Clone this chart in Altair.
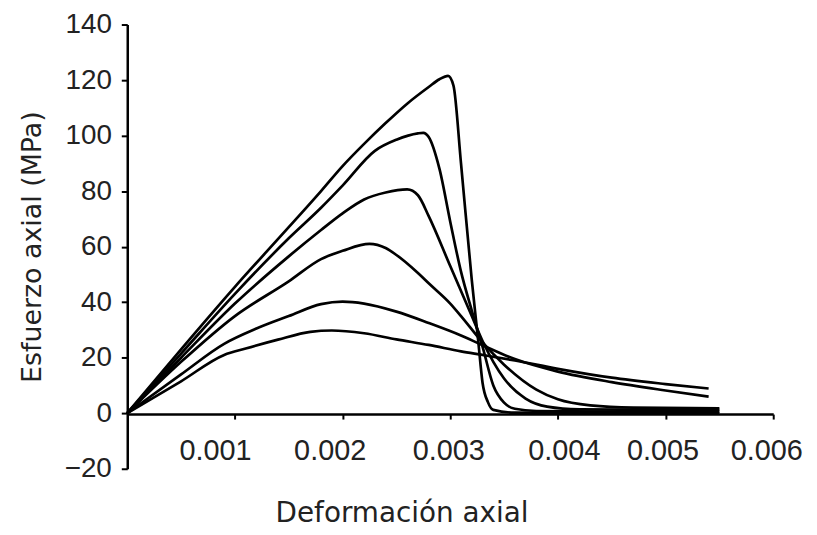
import altair as alt
import pandas as pd

# ---- data ----
serie_names = ["c1", "c2", "c3", "c4", "c5", "c6"]

c1_x = [0, 0.0005, 0.001, 0.0015, 0.0018, 0.002, 0.0022, 0.0024, 0.0026, 0.0028, 0.0029, 0.00298, 0.00303, 0.0031, 0.0032, 0.00326, 0.0033, 0.00335, 0.0034, 0.0036, 0.0045, 0.0055]
c1_y = [0, 23, 45.5, 67, 80, 89, 97, 104.5, 111.5, 117.5, 120.3, 121.5, 118, 90, 48, 26, 11, 4, 1.2, 0.2, 0, 0]

c2_x = [0, 0.0005, 0.001, 0.0015, 0.0018, 0.002, 0.0023, 0.0025, 0.0027, 0.00275, 0.0028, 0.0029, 0.003, 0.0031, 0.0032, 0.0033, 0.0034, 0.0035, 0.0036, 0.0038, 0.0045, 0.0055]
c2_y = [0, 21.5, 43, 63, 74, 82, 94.5, 98.5, 100.8, 101, 99.5, 88, 69, 51, 37, 24, 10, 3.8, 1.6, 0.8, 0.6, 0.6]

c3_x = [0, 0.0005, 0.001, 0.0015, 0.0018, 0.002, 0.0022, 0.0024, 0.0026, 0.0027, 0.0028, 0.003, 0.0032, 0.0033, 0.0035, 0.0037, 0.0039, 0.0042, 0.005, 0.0055]
c3_y = [0, 20, 39.5, 56.5, 66, 72, 77, 79.5, 80.6, 78.5, 71, 53, 35, 26, 12.5, 5.3, 2.4, 1.4, 1.2, 1.2]

c4_x = [0, 0.0005, 0.001, 0.0015, 0.0018, 0.002, 0.00225, 0.0024, 0.0025, 0.0027, 0.0028, 0.003, 0.0031, 0.0033, 0.0035, 0.0038, 0.004, 0.0043, 0.0047, 0.0055]
c4_y = [0, 18.5, 35, 47.5, 55.5, 58.5, 61, 59.5, 57, 50.5, 46.8, 39.5, 35, 25.5, 17.5, 8.5, 5, 2.8, 2.0, 1.8]

c5_x = [0, 0.0005, 0.0009, 0.0012, 0.0015, 0.0018, 0.002, 0.0022, 0.0025, 0.0028, 0.0031, 0.0033, 0.0036, 0.004, 0.0045, 0.005, 0.0054]
c5_y = [0, 14, 25, 30.5, 35, 39.3, 40.2, 39.5, 36.6, 32.5, 28, 24.5, 19.5, 15, 11.2, 8.2, 6]

c6_x = [0, 0.0005, 0.0009, 0.0011, 0.0014, 0.0017, 0.0019, 0.0022, 0.0025, 0.0028, 0.0031, 0.0033, 0.0036, 0.004, 0.0045, 0.005, 0.0054]
c6_y = [0, 11.5, 21, 23.3, 26.5, 29.3, 29.8, 28.8, 26.6, 24.6, 22.3, 21, 19, 16, 12.8, 10.5, 8.9]

x_ticks = [0.001, 0.002, 0.003, 0.004, 0.005, 0.006]
y_ticks = [-20, 0, 20, 40, 60, 80, 100, 120, 140]

series = [(serie_names[0], c1_x, c1_y), (serie_names[1], c2_x, c2_y),
          (serie_names[2], c3_x, c3_y), (serie_names[3], c4_x, c4_y),
          (serie_names[4], c5_x, c5_y), (serie_names[5], c6_x, c6_y)]

rows = []
for name, xs, ys in series:
    for i, (xv, yv) in enumerate(zip(xs, ys)):
        rows.append({"serie": name, "deformacion": xv, "esfuerzo": yv, "orden": i})
df = pd.DataFrame(rows)

x_label_offset = {
    "condition": [
        {"test": "datum.value < 0.0015", "value": -20},
        {"test": "datum.value < 0.0025", "value": -13},
        {"test": "datum.value > 0.0055", "value": -7},
        {"test": "datum.value > 0.0045", "value": -3},
        {"test": "datum.value > 0.0035", "value": 6},
    ],
    "value": -2,
}

chart = alt.Chart(df).mark_line(
    color="black", strokeWidth=2.7, interpolate="monotone"
).encode(
    x=alt.X("deformacion:Q",
            scale=alt.Scale(domain=[0, 0.006], nice=False, zero=False),
            axis=alt.Axis(values=x_ticks, format=".3f", title="Deformación axial",
                          offset=-55, grid=False, labelOverlap=False,
                          labelFlush=False, labelOffset=x_label_offset,
                          domainColor="black", domainWidth=2.5,
                          tickColor="black", tickWidth=2, tickSize=5,
                          labelFont="Liberation Sans", labelFontSize=29,
                          labelColor="#222222", labelPadding=18,
                          titleFont="DejaVu Sans", titleFontSize=28,
                          titleFontWeight="normal", titleColor="#222222",
                          titlePadding=34, titleX=276)),
    y=alt.Y("esfuerzo:Q",
            scale=alt.Scale(domain=[-20, 140], nice=False, zero=False),
            axis=alt.Axis(values=y_ticks, title="Esfuerzo axial (MPa)", grid=False,
                          labelOverlap=False,
                          domainColor="black", domainWidth=2.5,
                          tickColor="black", tickWidth=2, tickSize=6,
                          labelFont="Liberation Sans", labelFontSize=28,
                          labelColor="#222222", labelPadding=10,
                          titleFont="DejaVu Sans", titleFontSize=27,
                          titleFontWeight="normal", titleColor="#222222",
                          titlePadding=18)),
    detail="serie:N",
    order="orden:Q",
).properties(
    width=650, height=447,
    autosize=alt.AutoSizeParams(type="none"),
    padding={"left": 120, "top": 15, "right": 36, "bottom": 62},
).configure_view(stroke=None)

chart.save("out.html", embed_options={"renderer": "svg", "actions": False})
